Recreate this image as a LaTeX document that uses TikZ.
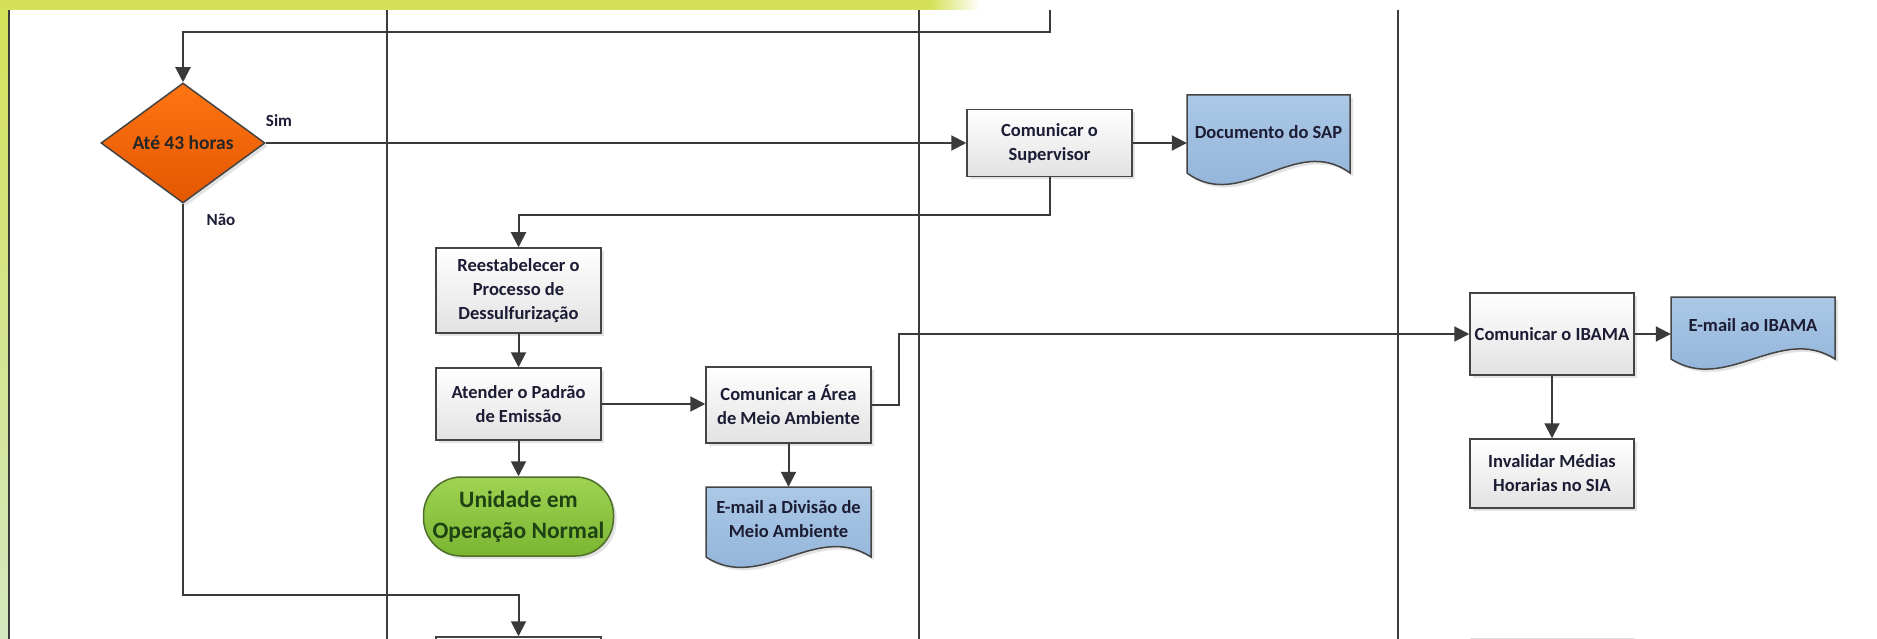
\documentclass[tikz,border=0pt]{standalone}
\usepackage{fontspec}
\setmainfont{Carlito}
\usetikzlibrary{arrows.meta,shapes.geometric,shadows,calc}
\definecolor{bandgreen}{HTML}{D4E158}
\definecolor{stripebot}{HTML}{D6E7C0}
\definecolor{lanecol}{HTML}{3C3C3C}
\definecolor{conncol}{HTML}{3A3A3A}
\definecolor{boxline}{HTML}{444444}
\definecolor{boxbot}{HTML}{E2E2E2}
\definecolor{txtcol}{HTML}{1C1C34}
\definecolor{doctop}{HTML}{ABC8E6}
\definecolor{docbot}{HTML}{8DB0D6}
\definecolor{orangetop}{HTML}{FF7412}
\definecolor{orangebot}{HTML}{E35800}
\definecolor{greentop}{HTML}{A0D353}
\definecolor{greenbot}{HTML}{7AB632}
\definecolor{greenline}{HTML}{4C6E2A}
\definecolor{greentxt}{HTML}{1F4214}
\newcommand{\bxfont}{\fontsize{18.5}{24}\selectfont\bfseries}
\newcommand{\lblfont}{\fontsize{17}{20}\selectfont\bfseries}
\newcommand{\termfont}{\fontsize{23.5}{31}\selectfont\bfseries}
\begin{document}
\begin{tikzpicture}[x=1pt,y=-1pt,
  stepbox/.style={draw=boxline, line width=1.5pt, top color=white, bottom color=boxbot,
    minimum width=165pt, inner sep=0pt, align=center, font=\bxfont, text=txtcol,
    drop shadow={shadow xshift=3pt, shadow yshift=-3pt, opacity=0.22}},
  docfill/.style={draw=boxline, line width=1.5pt, top color=doctop, bottom color=docbot,
    drop shadow={shadow xshift=3pt, shadow yshift=-3pt, opacity=0.22}},
  doctext/.style={inner sep=0pt, align=center, font=\bxfont, text=txtcol},
  conn/.style={draw=conncol, line width=2pt},
  arr/.style={conn, -{Triangle[length=15pt,width=15pt]}},
  laneline/.style={draw=lanecol, line width=1.8pt},
  lbl/.style={font=\lblfont, text=txtcol, inner sep=0pt}]
\useasboundingbox (0,0) rectangle (1877,639);
\clip (0,0) rectangle (1877,639);
\fill[white] (0,0) rectangle (1877,639);
% decorative green frame
\fill[bandgreen] (0,0) rectangle (930,10);
\shade[left color=bandgreen, right color=white] (930,0) rectangle (980,10);
\shade[top color=bandgreen, bottom color=stripebot] (0,0) rectangle (8,639);
% lane lines
\draw[laneline] (9,10) -- (9,639);
\draw[laneline] (387,10) -- (387,639);
\draw[laneline] (919,10) -- (919,639);
\draw[laneline] (1398,10) -- (1398,639);
% decision
\node[diamond, draw=boxline, line width=1.5pt, top color=orangetop, bottom color=orangebot,
  minimum width=164pt, minimum height=120pt, inner sep=0pt, font=\fontsize{19.5}{24}\selectfont\bfseries, text=black!85,
  drop shadow={shadow xshift=3pt, shadow yshift=-3pt, opacity=0.22}] (dia) at (183,143) {Até 43 horas};
% process boxes
\node[stepbox, minimum height=67pt] (sup) at (1049.5,143) {Comunicar o\\Supervisor};
\node[stepbox, minimum height=85pt] (rees) at (518.5,290.5) {Reestabelecer o\\Processo de\\Dessulfurização};
\node[stepbox, minimum height=72pt] (atend) at (518.5,404) {Atender o Padrão\\de Emissão};
\node[stepbox, minimum height=76pt] (area) at (788.5,405) {Comunicar a Área\\de Meio Ambiente};
\node[stepbox, minimum height=82pt, minimum width=164pt] (ibama) at (1552,334) {Comunicar o IBAMA};
\node[stepbox, minimum height=69pt, minimum width=164pt] (inval) at (1552,473.5) {Invalidar Médias\\Horarias no SIA};
\node[stepbox, minimum height=76pt] (bot) at (518.5,675) {};
\node[draw=black!12, line width=1pt, minimum width=164pt, minimum height=76pt] (botr) at (1552,676) {};
% terminator
\node[draw=greenline, line width=1.5pt, top color=greentop, bottom color=greenbot,
  rounded corners=38pt, minimum width=190pt, minimum height=79pt, inner sep=0pt,
  align=center, font=\termfont, text=greentxt,
  drop shadow={shadow xshift=3pt, shadow yshift=-3pt, opacity=0.22}] (uni) at (518.5,516.5) {Unidade em\\Operação Normal};
% documents
\filldraw[docfill] (1187,95) -- (1350,95) -- (1350,173)
  .. controls (1295.7,133) and (1241.3,213) .. (1187,173) -- cycle;
\node[doctext, minimum width=163pt, minimum height=20pt] (sapdoc) at (1268.5,132) {Documento do SAP};
\filldraw[docfill] (1671,297) -- (1835,297) -- (1835,359)
  .. controls (1780.3,324) and (1725.7,394) .. (1671,359) -- cycle;
\node[doctext, minimum width=164pt, minimum height=20pt] (ibdoc) at (1753,325) {E-mail ao IBAMA};
\filldraw[docfill] (706,487) -- (871,487) -- (871,557)
  .. controls (816,521) and (761,593) .. (706,557) -- cycle;
\node[doctext, minimum width=165pt, minimum height=64pt] (divdoc) at (788.5,519) {E-mail a Divisão de\\Meio Ambiente};
% connectors
\coordinate (topin) at (1050,10);
\draw[arr] (topin) -- (1050,32) -| (dia.north);
\draw[arr] (dia.east) -- (dia.east -| sup.west);
\node[lbl] (sim) at (279,121) {Sim};
\node[lbl] (nao) at (221,220) {Não};
\draw[arr] (sup.east) -- (sup.east -| sapdoc.west);
\draw[arr] (sup.south) -- ++(0,38) -| (rees.north);
\draw[arr] (rees.south) -- (atend.north);
\draw[arr] (atend.east) -- (atend.east -| area.west);
\draw[arr] (atend.south) -- (uni.north);
\draw[arr] (area.south) -- (area.south |- divdoc.north);
\draw[arr] (area.east) -- ++(27,0) |- (ibama.west);
\draw[arr] (ibama.east) -- (ibama.east -| ibdoc.west);
\draw[arr] (ibama.south) -- (inval.north);
\draw[arr] (dia.south) -- (183,595) -| (bot.north);
\end{tikzpicture}
\end{document}
